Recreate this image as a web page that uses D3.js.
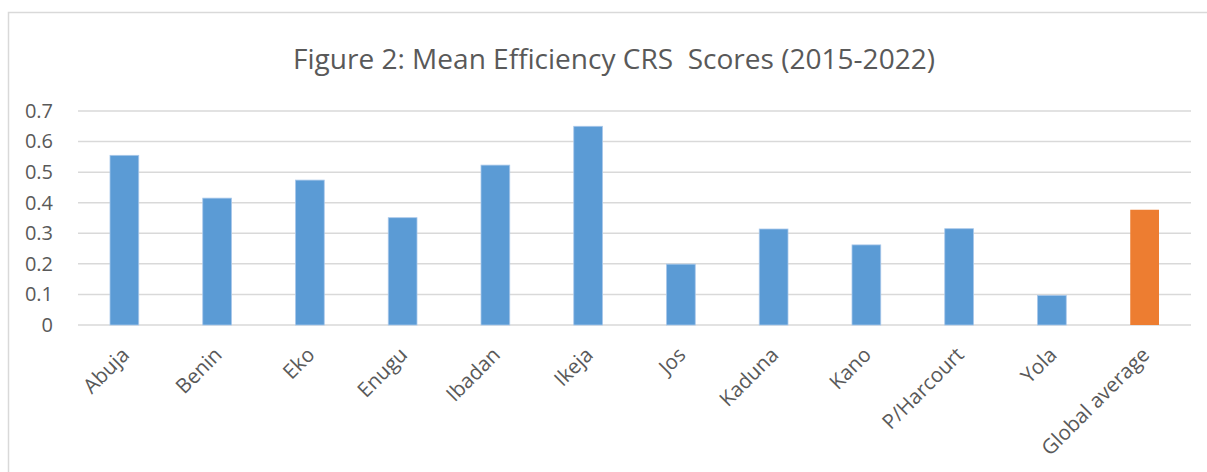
<!DOCTYPE html>
<html>
<head>
<meta charset="utf-8">
<script src="https://cdn.jsdelivr.net/npm/d3@7"></script>
<style>
  body { margin: 0; background: #fff; }
  svg { display: block; font-family: "Open Sans", sans-serif; }
</style>
</head>
<body>
<div id="chart"></div>
<script>
const categories = ["Abuja", "Benin", "Eko", "Enugu", "Ibadan", "Ikeja", "Jos", "Kaduna", "Kano", "P/Harcourt", "Yola", "Global average"];
const scores = [0.555, 0.415, 0.474, 0.351, 0.523, 0.650, 0.199, 0.314, 0.262, 0.315, 0.097, 0.377];
const yTicks = [0, 0.1, 0.2, 0.3, 0.4, 0.5, 0.6, 0.7];
const title = "Figure 2: Mean Efficiency CRS  Scores (2015-2022)";

const width = 1207, height = 472;
const margin = ({top: 111, right: 16, bottom: 147, left: 78});

const svg = d3.select("#chart")
  .append("svg")
    .attr("width", width)
    .attr("height", height);

// chart frame (runs off the right and bottom of the picture)
svg.append("rect")
  .attr("x", 8.5)
  .attr("y", 12.5)
  .attr("width", width + 20)
  .attr("height", height + 20)
  .attr("fill", "#fff")
  .attr("stroke", "#d9d9d9")
  .attr("stroke-width", 1.5);

svg.append("text")
  .attr("x", 614)
  .attr("y", 69)
  .attr("text-anchor", "middle")
  .attr("fill", "#595959")
  .style("font-size", "27px")
  .style("white-space", "pre")
  .attr("textLength", 642)
  .attr("lengthAdjust", "spacingAndGlyphs")
  .text(title);

const x = d3.scaleBand()
  .domain(categories)
  .range([margin.left, width - margin.right])
  .paddingInner(0.69)
  .paddingOuter(0.345);

const y = d3.scaleLinear()
  .domain([0, 0.7])
  .range([height - margin.bottom, margin.top]);

// gridlines
svg.append("g")
  .selectAll("line")
  .data(yTicks)
  .join("line")
    .attr("x1", margin.left)
    .attr("x2", width - margin.right)
    .attr("y1", d => y(d))
    .attr("y2", d => y(d))
    .attr("stroke", "#d9d9d9")
    .attr("stroke-width", 1.5);

const yAxis = svg.append("g")
  .attr("transform", `translate(${margin.left}, 0)`)
  .call(d3.axisLeft(y).tickValues(yTicks).tickSize(0).tickPadding(25).tickFormat(d => d === 0 ? "0" : d3.format(".1f")(d)));
yAxis.select(".domain").remove();
yAxis.selectAll("text")
  .attr("fill", "#595959")
  .style("font-family", "Open Sans")
  .style("font-size", "20px");

svg.append("g")
  .selectAll("rect")
  .data(categories)
  .join("rect")
    .attr("x", d => x(d))
    .attr("width", x.bandwidth())
    .attr("y", (d, i) => y(scores[i]))
    .attr("height", (d, i) => y(0) - y(scores[i]))
    .attr("fill", d => d === "Global average" ? "#ed7d31" : "#5b9bd5")
    .attr("stroke", d => d === "Global average" ? "none" : "#a9c8ea")
    .attr("stroke-width", 0.8);

// rotated category labels
svg.append("g")
  .selectAll("text")
  .data(categories)
  .join("text")
    .attr("transform", d => `translate(${x(d) + x.bandwidth() / 2 + 1}, ${y(0) + 26}) rotate(-45)`)
    .attr("text-anchor", "end")
    .attr("dy", "0.35em")
    .attr("fill", "#595959")
    .style("font-size", "20.5px")
    .text(d => d);
</script>
</body>
</html>
